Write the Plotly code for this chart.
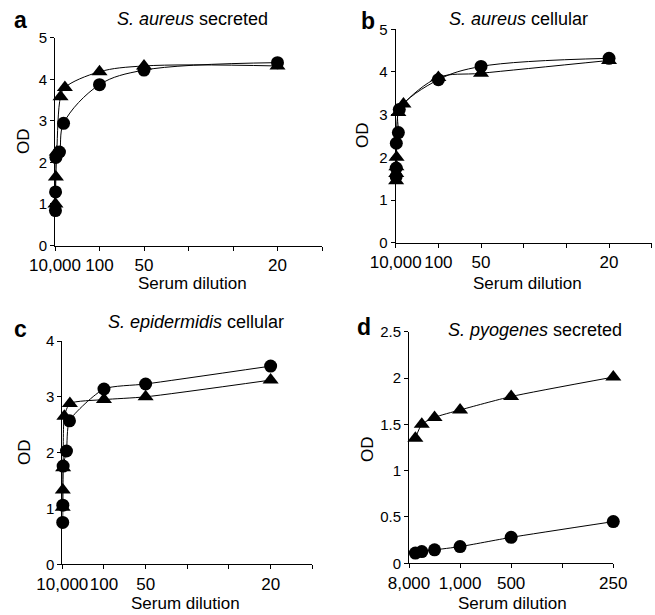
import plotly.graph_objects as go

# ---------------- data (serum dilution -> OD) ----------------
a_circ_dil = [10000, 8000, 5000, 1000, 520, 100, 50, 20]
a_circ_od = [0.84, 1.29, 2.12, 2.25, 2.94, 3.87, 4.22, 4.40]
a_tri_dil = [10000, 5000, 2500, 800, 450, 100, 50, 20]
a_tri_od = [1.00, 1.65, 2.25, 3.58, 3.80, 4.18, 4.32, 4.32]

b_circ_dil = [10000, 8000, 7000, 1600, 1200, 100, 50, 20]
b_circ_od = [1.55, 1.75, 2.33, 2.58, 3.12, 3.82, 4.13, 4.32]
b_tri_dil = [10000, 8000, 6000, 5000, 1600, 550, 100, 50, 20]
b_tri_od = [1.45, 1.62, 1.78, 2.00, 3.05, 3.25, 3.87, 3.97, 4.27]

c_circ_dil = [10000, 8000, 5000, 1000, 580, 100, 50, 20]
c_circ_od = [0.75, 1.06, 1.76, 2.03, 2.57, 3.14, 3.23, 3.55]
c_tri_dil = [10000, 8000, 5000, 2000, 550, 100, 50, 20]
c_tri_od = [1.02, 1.33, 1.73, 2.65, 2.88, 2.95, 3.00, 3.30]

d_dil = [8000, 4000, 2000, 1000, 500, 250]
d_circ_od = [0.11, 0.127, 0.145, 0.18, 0.28, 0.45]
d_tri_od = [1.35, 1.50, 1.575, 1.655, 1.80, 2.01]

abc_tickvals = [0, 0.01, 0.02, 0.03, 0.04, 0.05, 0.06]
abc_ticktext = ["10,000", "100", "50", "", "", "20", ""]
d_tickvals = [0, 0.001, 0.002, 0.003, 0.004]
d_ticktext = ["8,000", "1,000", "500", "", "250"]

panel_letters = ["a", "b", "c", "d"]
panel_titles = ["<i>S. aureus</i> secreted", "<i>S. aureus</i> cellular",
                "<i>S. epidermidis</i> cellular", "<i>S. pyogenes</i> secreted"]

W, H = 655, 615
FONT = "Liberation Sans, Arial, Helvetica, sans-serif"


def inv(d):
    return [1.0 / v for v in d]


fig = go.Figure()

panels = [
    ("x", "y", a_circ_dil, a_circ_od, a_tri_dil, a_tri_od, 1.0),
    ("x2", "y2", b_circ_dil, b_circ_od, b_tri_dil, b_tri_od, 1.0),
    ("x3", "y3", c_circ_dil, c_circ_od, c_tri_dil, c_tri_od, 0.6),
    ("x4", "y4", d_dil, d_circ_od, d_dil, d_tri_od, 0.6),
]

for xa, ya, cd, co, td, to, sm in panels:
    fig.add_trace(go.Scatter(
        x=inv(td), y=to, xaxis=xa, yaxis=ya, mode="lines+markers",
        line=dict(color="black", width=1, shape="spline", smoothing=sm),
        marker=dict(symbol="triangle-up", size=14, color="black"),
        cliponaxis=False, showlegend=False))
    fig.add_trace(go.Scatter(
        x=inv(cd), y=co, xaxis=xa, yaxis=ya, mode="lines+markers",
        line=dict(color="black", width=1, shape="spline", smoothing=sm),
        marker=dict(symbol="circle", size=13, color="black"),
        cliponaxis=False, showlegend=False))


def px_x(p):
    return p / W


def px_y(p):
    return 1 - p / H


# plot-area boxes in pixels: (left, right, bottom, top)
boxes = [(55, 322, 245.5, 37.7), (395.7, 651.7, 242.7, 29.3),
         (62.3, 312.3, 564.3, 341), (409, 613.3, 563.3, 331.7)]
yranges = [[0, 5], [0, 5], [0, 4], [0, 2.5]]
ydticks = [1, 1, 1, 0.5]
xranges = [[0, 0.06], [0, 0.06], [0, 0.06], [0, 0.004]]

axis_common = dict(showline=True, linecolor="black", linewidth=1,
                   ticks="outside", ticklen=4, tickcolor="black", tickwidth=1,
                   showgrid=False, zeroline=False, fixedrange=True,
                   automargin=False)

layout = {}
for i, (l, r, b, t) in enumerate(boxes):
    sx = "" if i == 0 else str(i + 1)
    tv = d_tickvals if i == 3 else abc_tickvals
    tt = d_ticktext if i == 3 else abc_ticktext
    layout["xaxis" + sx] = dict(
        axis_common, domain=[px_x(l), px_x(r)], range=xranges[i],
        anchor="y" + sx, tickmode="array", tickvals=tv, ticktext=tt,
        tickangle=0,
        tickfont=dict(size=17, family=FONT, color="black"))
    layout["yaxis" + sx] = dict(
        axis_common, domain=[px_y(b), px_y(t)], range=yranges[i],
        anchor="x" + sx, tick0=0, dtick=ydticks[i],
        tickfont=dict(size=15, family=FONT, color="black"))

fig.update_layout(**layout)

ann = []
letter_pos = [(20, 20), (368, 21), (20, 329), (364, 327)]
title_pos = [(192, 19), (518, 19), (196, 322), (535, 330)]
od_pos = [(23, 141), (363, 135), (24, 452), (367, 449)]
sd_pos = [(192, 283), (527, 283), (185, 603), (512, 603)]
for i in range(4):
    lx, ly = letter_pos[i]
    ann.append(dict(x=px_x(lx), y=px_y(ly), xref="paper", yref="paper",
                    text="<b>%s</b>" % panel_letters[i], showarrow=False,
                    xanchor="center", yanchor="middle",
                    font=dict(size=23, family=FONT, color="black")))
    tx, ty = title_pos[i]
    ann.append(dict(x=px_x(tx), y=px_y(ty), xref="paper", yref="paper",
                    text=panel_titles[i], showarrow=False,
                    xanchor="center", yanchor="middle",
                    font=dict(size=18, family=FONT, color="black")))
    ox, oy = od_pos[i]
    ann.append(dict(x=px_x(ox), y=px_y(oy), xref="paper", yref="paper",
                    text="OD", showarrow=False, textangle=-90,
                    xanchor="center", yanchor="middle",
                    font=dict(size=17, family=FONT, color="black")))
    sx_, sy_ = sd_pos[i]
    ann.append(dict(x=px_x(sx_), y=px_y(sy_), xref="paper", yref="paper",
                    text="Serum dilution", showarrow=False,
                    xanchor="center", yanchor="middle",
                    font=dict(size=17, family=FONT, color="black")))

fig.update_layout(
    width=W, height=H, margin=dict(l=0, r=0, t=0, b=0),
    paper_bgcolor="white", plot_bgcolor="white",
    annotations=ann, font=dict(family=FONT, color="black"))

fig.write_html("out.html",
               config={"displayModeBar": False},
               post_script="document.body.style.margin='0px';"
                           "document.body.style.overflow='hidden';")
